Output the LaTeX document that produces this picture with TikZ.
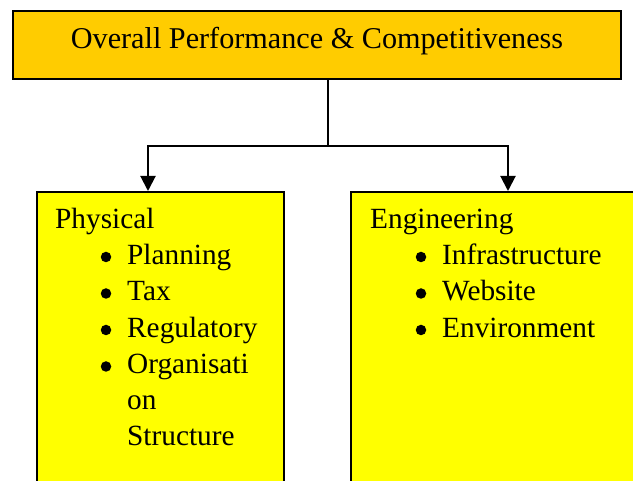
\documentclass[tikz,border=0pt]{standalone}
\usepackage{fontspec}
\setmainfont{Liberation Serif}
\usetikzlibrary{arrows.meta}
\definecolor{topfill}{HTML}{FFCC00}
\definecolor{boxfill}{HTML}{FFFF00}
\begin{document}
\begin{tikzpicture}[x=1pt,y=-1pt,
  txt/.style={anchor=base west,inner sep=0pt,font=\fontsize{29.3}{35}\selectfont},
  bul/.style={circle,fill=black,inner sep=0pt,minimum size=10.5pt},
  boxstyle/.style={draw=black,line width=2pt,fill=boxfill},
  conn/.style={draw=black,line width=2pt},
  tip/.style={-{Triangle[width=15pt,length=15pt]}}]
\useasboundingbox (0,0) rectangle (633,481);
\clip (0,0) rectangle (633,481);
% shadow of top box
\fill[gray!60] (14,12) rectangle (622,80);
% top box
\node[draw=black,line width=2pt,fill=topfill,minimum width=608pt,minimum height=68pt,inner sep=0pt,anchor=north west] (top) at (12,10) {};
\node[anchor=base,inner sep=0pt,font=\fontsize{30.2}{36}\selectfont] (title) at (317,49) {Overall Performance \& Competitiveness};
% lower boxes
\node[boxstyle,minimum width=247pt,minimum height=310pt,inner sep=0pt,anchor=north west] (left) at (36,191) {};
\node[boxstyle,minimum width=300pt,minimum height=310pt,inner sep=0pt,anchor=north west] (right) at (350,191) {};
% connectors
\coordinate (j) at (328,146);
\coordinate (la) at (148,191);
\coordinate (ra) at (508,191);
\draw[conn] (top.south -| j) -- (j);
\draw[conn,tip] (j) -| (la);
\draw[conn,tip] (j) -| (ra);
% left text
\node[txt] (phys) at (55,229) {Physical};
\node[bul] (b1) at (106,257) {};
\node[txt] (plan) at (127,264.5) {Planning};
\node[bul] (b2) at (106,293.5) {};
\node[txt] (tax) at (127,301) {Tax};
\node[bul] (b3) at (106,330) {};
\node[txt] (reg) at (127,337.5) {Regulatory};
\node[bul] (b4) at (106,366.5) {};
\node[txt] (org1) at (127,374) {Organisati};
\node[txt] (org2) at (127,410) {on};
\node[txt] (org3) at (127,446) {Structure};
% right text
\node[txt] (eng) at (370,229) {Engineering};
\node[bul] (b5) at (421,257) {};
\node[txt] (infra) at (442,264.5) {Infrastructure};
\node[bul] (b6) at (421,293.5) {};
\node[txt] (web) at (442,301) {Website};
\node[bul] (b7) at (421,330) {};
\node[txt] (env) at (442,337.5) {Environment};
\end{tikzpicture}
\end{document}
